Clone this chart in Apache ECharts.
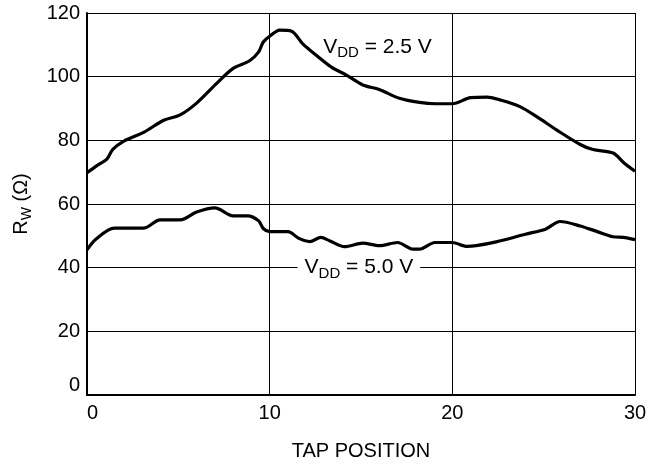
<!DOCTYPE html>
<html><head><meta charset="utf-8">
<script src="https://cdn.jsdelivr.net/npm/echarts@6/dist/echarts.min.js"></script>
<style>html,body{margin:0;padding:0;background:#fff}#c{width:650px;height:466px}</style>
</head><body><div id="c"></div>
<script>
var tap25 = [0,0.5,1.1,1.4,2,3.1,4.2,5.1,6,7.1,8,8.9,9.4,9.65,10,10.55,11.2,11.8,12.6,13.4,14.2,15.1,16,17.1,18.2,19.1,20,21,21.9,22.6,23.7,24.6,25.7,27,27.7,28.8,29.4,30];
var rw25 = [69.8,71.9,74.2,77.1,79.7,82.5,86.3,88,91.7,97.9,102.6,105,107.8,110.9,112.7,114.6,114.3,110.4,106.5,102.9,100.5,97.4,96,93.2,91.9,91.5,91.5,93.4,93.6,92.7,90.6,87.5,83.3,78.7,77.1,76,72.9,70.3];
var tap50 = [0,0.5,1.5,3.1,4,5.1,6,7,8,8.8,9.4,9.65,10,11,11.6,12.2,12.8,13.3,14.1,15.1,16,17,17.85,18.2,19.05,20,20.8,21.3,22.4,24,25.1,25.9,27,27.9,28.8,29.35,30];
var rw50 = [45.6,49,52.4,52.4,55,55,57.5,58.8,56.3,56.3,54.7,52.3,51.3,51.3,49.2,48.2,49.5,48.4,46.6,47.7,46.9,47.9,45.8,45.8,47.9,47.9,46.7,46.9,48.1,50.5,52.1,54.5,53.1,51.4,49.7,49.5,48.8];
var label25 = {x: 12.9, y: 109.3, text: '2.5 V'};
var label50 = {x: 11.5, y: 40, text: '5.0 V'};

function pairs(xs, ys){ return xs.map(function(x,i){ return [x, ys[i]]; }); }
var FONT = '"Liberation Sans", Arial, Helvetica, sans-serif';
var rich = {
  v: {fontSize: 20, fontFamily: FONT, color: '#000'},
  s: {fontSize: 14, fontFamily: FONT, color: '#000', padding: [11,0,0,0]}
};
var richL = {
  v: {fontSize: 21, fontFamily: FONT, color: '#000'},
  s: {fontSize: 15, fontFamily: FONT, color: '#000', padding: [12,0,0,0]}
};
function vlabel(l, bg, pad){
  return {
    coord: [l.x, l.y], symbol: 'rect', symbolSize: 1,
    itemStyle: {color: 'rgba(0,0,0,0)'},
    label: {show: true, position: 'right', distance: 0,
      formatter: '{v|V}{s|DD}{v| = ' + l.text + '}', rich: richL,
      backgroundColor: bg, padding: pad}
  };
}
var chart = echarts.init(document.getElementById('c'), null, {renderer: 'canvas'});
chart.setOption({
  animation: false,
  grid: {left: 87, right: 15, top: 13, bottom: 69},
  xAxis: {
    type: 'value', min: 0, max: 30, interval: 10,
    name: 'TAP POSITION', nameLocation: 'middle', nameGap: 46,
    nameTextStyle: {fontSize: 20, fontFamily: FONT, color: '#000'},
    axisLine: {show: true, lineStyle: {color: '#000', width: 2}},
    axisTick: {show: false},
    axisLabel: {fontSize: 20, fontFamily: FONT, color: '#000', margin: 8, alignMinLabel: 'left'},
    splitLine: {show: true, lineStyle: {color: '#000', width: 1}}
  },
  yAxis: {
    type: 'value', min: 0, max: 120, interval: 20,
    name: '{v|R}{s|W}{v| (Ω)}', nameLocation: 'middle', nameGap: 53,
    nameTextStyle: {rich: rich},
    axisLine: {show: true, lineStyle: {color: '#000', width: 2}},
    axisTick: {show: false},
    axisLabel: {fontSize: 20, fontFamily: FONT, color: '#000', margin: 7, verticalAlignMinLabel: 'bottom'},
    splitLine: {show: true, lineStyle: {color: '#000', width: 1}}
  },
  series: [
    {type: 'line', data: pairs(tap25, rw25), smooth: 0.3, symbol: 'none',
     lineStyle: {color: '#000', width: 3.2}, z: 3,
     markPoint: {data: [vlabel(label25, 'transparent', [0,0,0,0])]}},
    {type: 'line', data: pairs(tap50, rw50), smooth: 0.3, symbol: 'none',
     lineStyle: {color: '#000', width: 3.2}, z: 3,
     markPoint: {data: [vlabel(label50, '#fff', [0,7,0,7])]}}
  ]
});
</script></body></html>
